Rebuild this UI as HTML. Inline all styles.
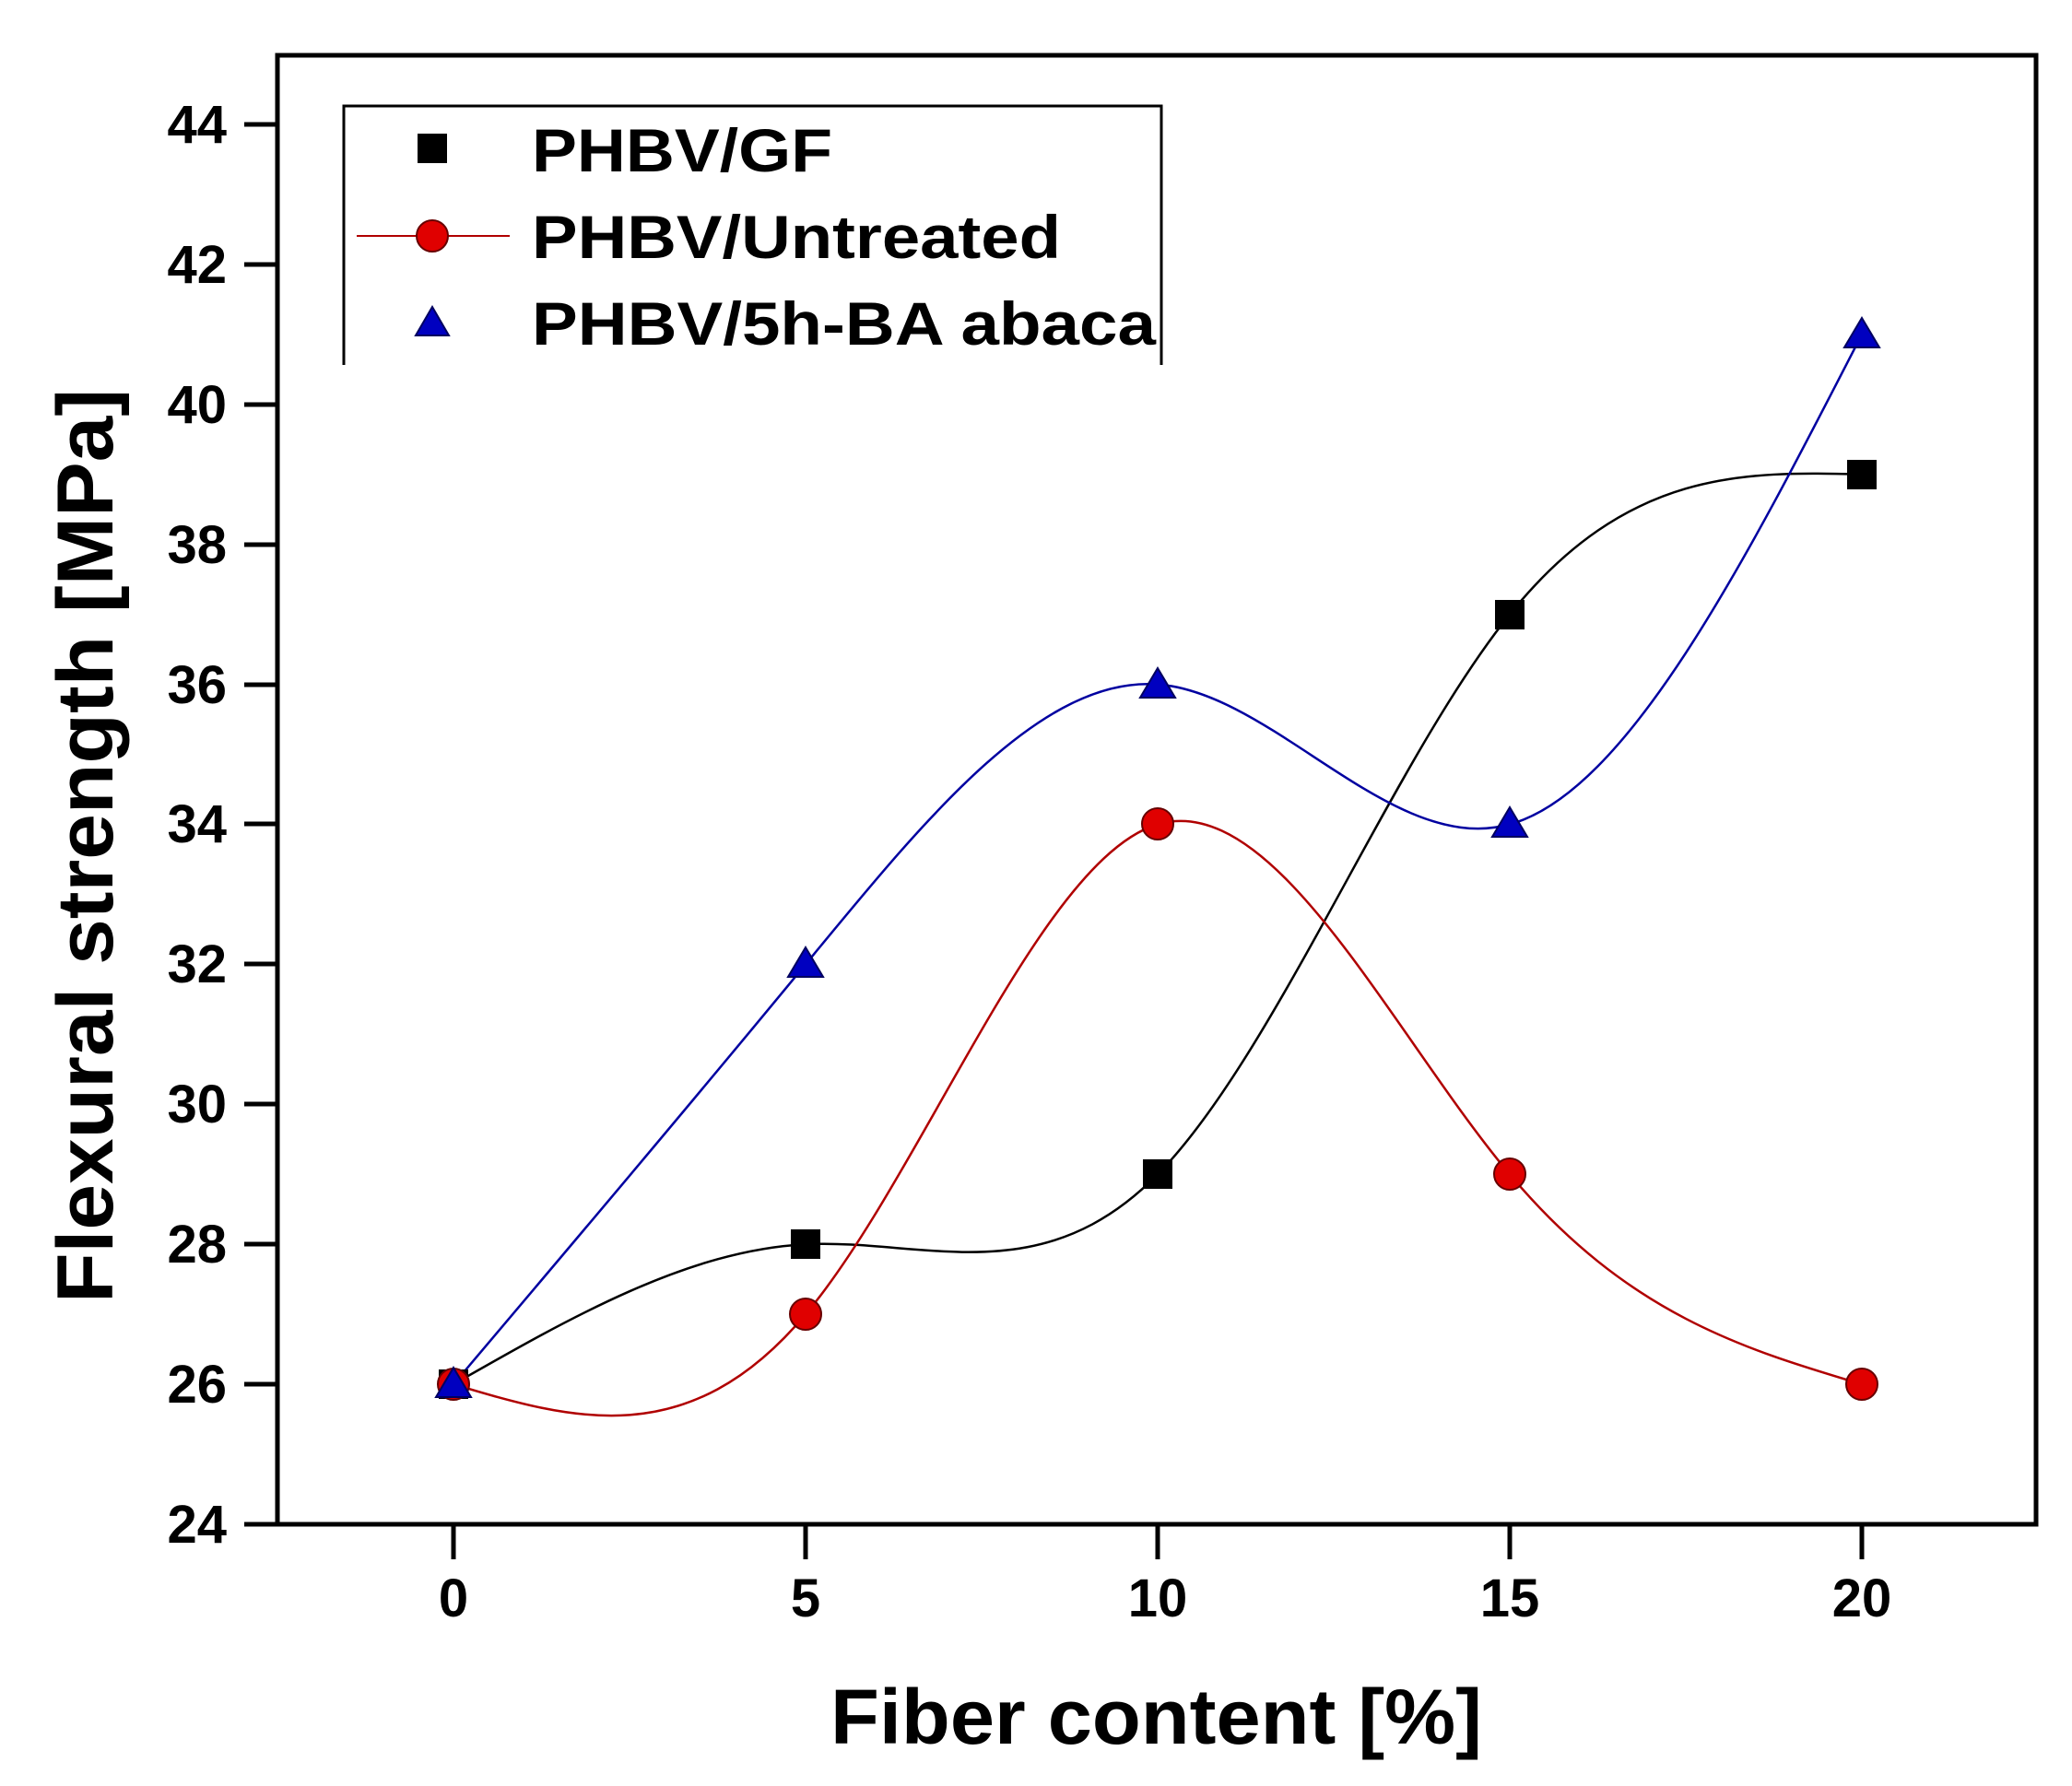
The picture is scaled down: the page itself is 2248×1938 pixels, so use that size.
<!DOCTYPE html>
<html><head><meta charset="utf-8"><style>html,body{margin:0;padding:0;background:#fff}svg{display:block}</style></head><body>
<svg width="2248" height="1938" viewBox="0 0 2248 1938" xmlns="http://www.w3.org/2000/svg" font-family="Liberation Sans, Arial, sans-serif" font-weight="bold">
<rect x="301" y="60" width="1908" height="1594" fill="none" stroke="#000" stroke-width="5"/>
<g stroke="#000" stroke-width="5">
<line x1="265" y1="1654" x2="301" y2="1654"/><line x1="265" y1="1502" x2="301" y2="1502"/><line x1="265" y1="1350" x2="301" y2="1350"/><line x1="265" y1="1198" x2="301" y2="1198"/><line x1="265" y1="1046" x2="301" y2="1046"/><line x1="265" y1="894" x2="301" y2="894"/><line x1="265" y1="743" x2="301" y2="743"/><line x1="265" y1="591" x2="301" y2="591"/><line x1="265" y1="439" x2="301" y2="439"/><line x1="265" y1="287" x2="301" y2="287"/><line x1="265" y1="135" x2="301" y2="135"/>
<line x1="492" y1="1654" x2="492" y2="1692"/><line x1="874" y1="1654" x2="874" y2="1692"/><line x1="1256" y1="1654" x2="1256" y2="1692"/><line x1="1638" y1="1654" x2="1638" y2="1692"/><line x1="2020" y1="1654" x2="2020" y2="1692"/>
</g>
<g font-size="58" text-anchor="end">
<text x="246" y="1674">24</text><text x="246" y="1522">26</text><text x="246" y="1370">28</text><text x="246" y="1218">30</text><text x="246" y="1066">32</text><text x="246" y="914">34</text><text x="246" y="763">36</text><text x="246" y="611">38</text><text x="246" y="459">40</text><text x="246" y="307">42</text><text x="246" y="155">44</text>
</g>
<g font-size="58" text-anchor="middle">
<text x="492" y="1754">0</text><text x="874" y="1754">5</text><text x="1256" y="1754">10</text><text x="1638" y="1754">15</text><text x="2020" y="1754">20</text>
</g>
<text x="901" y="1892" font-size="84" textLength="707" lengthAdjust="spacingAndGlyphs">Fiber content [%]</text>
<text transform="translate(122,1414) rotate(-90)" font-size="86" textLength="992" lengthAdjust="spacingAndGlyphs">Flexural strength [MPa]</text>
<path d="M373,396 V115 H1260 V396" fill="none" stroke="#000" stroke-width="3"/>
<g font-size="66">
<text x="577" y="186" textLength="326" lengthAdjust="spacingAndGlyphs">PHBV/GF</text>
<text x="577" y="280" textLength="574" lengthAdjust="spacingAndGlyphs">PHBV/Untreated</text>
<text x="577" y="374" textLength="677" lengthAdjust="spacingAndGlyphs">PHBV/5h-BA abaca</text>
</g>
<rect x="453" y="145" width="32" height="32" fill="#000"/>
<line x1="387" y1="256" x2="553" y2="256" stroke="#b00000" stroke-width="2"/>
<circle cx="469" cy="256" r="17" fill="#e00000" stroke="#600" stroke-width="2"/>
<polygon points="469,333 487,364 451,364" fill="#0000c0" stroke="#000060" stroke-width="2"/>
<path d="M492,1502.1 C619.3,1429.4 746.7,1356.5 874,1350.2 C1001.3,1343.9 1128.7,1403.9 1256,1274.3 C1383.3,1144.6 1510.7,824.9 1638,666.7 C1765.3,508.5 1892.7,511.6 2020,514.8" fill="none" stroke="#000" stroke-width="2.5"/>
<path d="M492,1502.1 C619.3,1540.1 746.7,1578.1 874,1426.2 C1001.3,1274.3 1128.7,932.5 1256,894.5 C1383.3,856.5 1510.7,1122.4 1638,1274.3 C1765.3,1426.2 1892.7,1464.1 2020,1502.1" fill="none" stroke="#b00000" stroke-width="2.5"/>
<path d="M492,1502.1 C619.3,1351.6 746.7,1201 874,1046.4 C1001.3,891.8 1128.7,733.1 1256,742.6 C1383.3,752.1 1510.7,929.7 1638,894.5 C1765.3,859.3 1892.7,611 2020,362.9" fill="none" stroke="#0000a0" stroke-width="2.5"/>
<g fill="#000"><rect x="476" y="1486" width="32" height="32"/><rect x="858" y="1334" width="32" height="32"/><rect x="1240" y="1258" width="32" height="32"/><rect x="1622" y="651" width="32" height="32"/><rect x="2004" y="499" width="32" height="32"/></g>
<g fill="#e00000" stroke="#600" stroke-width="2"><circle cx="492" cy="1502" r="17"/><circle cx="874" cy="1426" r="17"/><circle cx="1256" cy="894" r="17"/><circle cx="1638" cy="1274" r="17"/><circle cx="2020" cy="1502" r="17"/></g>
<g fill="#0000c0" stroke="#000060" stroke-width="2">
<polygon points="492,1484 511,1516 473,1516"/><polygon points="874,1028 893,1060 855,1060"/><polygon points="1256,725 1275,757 1237,757"/><polygon points="1638,876 1657,908 1619,908"/><polygon points="2020,345 2039,377 2001,377"/>
</g>
</svg>
</body></html>
